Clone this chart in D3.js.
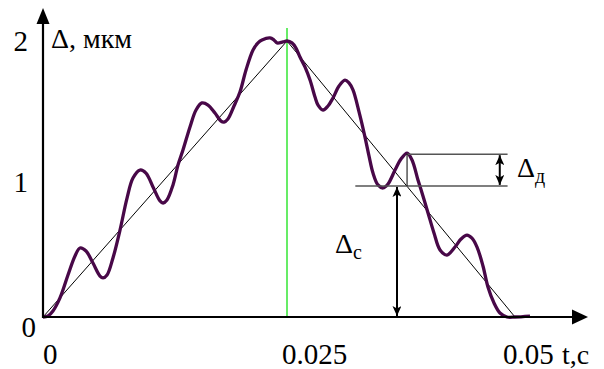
<!DOCTYPE html>
<html><head><meta charset="utf-8">
<script src="https://cdn.jsdelivr.net/npm/d3@7"></script>
<style>html,body{margin:0;padding:0;background:#fff}svg{display:block}</style>
</head><body><svg id="c" width="604" height="369"></svg>
<script>
// Measured curve: time t (s) and displacement Δ (мкм)
const tValues = [0,0.00051,0.00102,0.00174,0.00256,0.00328,0.00379,0.00441,0.00512,0.00584,0.00615,0.00656,0.00717,0.00789,0.00861,0.00922,0.00994,0.01055,0.01127,0.01199,0.01230,0.01270,0.01332,0.01383,0.01434,0.01506,0.01568,0.01629,0.01691,0.01762,0.01824,0.01855,0.01895,0.01957,0.02018,0.02080,0.02152,0.02203,0.02244,0.02326,0.02367,0.02398,0.02459,0.02500,0.02551,0.02592,0.02633,0.02684,0.02736,0.02787,0.02818,0.02869,0.02920,0.02971,0.03033,0.03094,0.03135,0.03176,0.03238,0.03299,0.03340,0.03381,0.03432,0.03484,0.03535,0.03607,0.03668,0.03730,0.03781,0.03842,0.03893,0.03945,0.04006,0.04068,0.04139,0.04221,0.04283,0.04344,0.04395,0.04447,0.04508,0.04559,0.04621,0.04682,0.04754,0.04836,0.04990];
const deltaValues = [0,0.007,0.043,0.138,0.304,0.442,0.500,0.478,0.391,0.297,0.283,0.304,0.428,0.630,0.862,1.007,1.065,1.043,0.942,0.841,0.826,0.848,0.957,1.101,1.210,1.377,1.500,1.551,1.536,1.478,1.420,1.413,1.435,1.529,1.630,1.790,1.935,1.986,2.007,2.022,2.007,1.986,1.993,2.000,1.986,1.949,1.884,1.812,1.717,1.594,1.536,1.500,1.529,1.587,1.674,1.717,1.696,1.645,1.486,1.304,1.167,1.043,0.957,0.935,0.964,1.065,1.145,1.188,1.138,0.993,0.877,0.754,0.609,0.486,0.449,0.507,0.565,0.594,0.572,0.507,0.370,0.217,0.101,0.029,0,0,0.007];
// Triangular (static) component
const triT = [0, 0.025, 0.04836];
const triD = [0, 2, 0];
const xTicks = [0, 0.025, 0.05];
const xTickLabels = ["0", "0.025", "0.05"];
const yTicks = [0, 1, 2];
const yTickLabels = ["0", "1", "2"];
// annotation values
const dynTop = 1.18, dynBottom = 0.95;
const dynTopStart = 0.0373, dynBottomStart = 0.0320, dynEnd = 0.0476;
const dynArrowT = 0.0468, statArrowT = 0.03627;
const peakT = 0.025;

const svg = d3.select("#c");
const x = d3.scaleLinear().domain([0, 0.05]).range([43, 531]);
const y = d3.scaleLinear().domain([0, 2]).range([317, 41]);

function txt(sel){
  return sel.attr("font-family", "Times New Roman").style("font-family", '"Times New Roman", Tinos, "Liberation Serif"');
}

const defs = svg.append("defs");
function marker(id, w, h){
  defs.append("marker").attr("id", id).attr("viewBox", `0 0 ${w} ${h}`)
    .attr("refX", w).attr("refY", h/2).attr("markerWidth", w).attr("markerHeight", h)
    .attr("markerUnits", "userSpaceOnUse").attr("orient", "auto-start-reverse")
    .append("path").attr("d", `M0,0L${w},${h/2}L0,${h}L${w*0.25},${h/2}Z`).attr("fill", "#000");
}
marker("ah", 10, 9);

// green vertical line at peak
svg.append("line").attr("x1", x(peakT)).attr("x2", x(peakT)).attr("y1", 28).attr("y2", y(0))
  .attr("stroke", "#00e000").attr("stroke-width", 1.2);

// triangle
const line = d3.line().x(d => x(d[0])).y(d => y(d[1]));
svg.append("path").attr("d", line(triT.map((t, i) => [t, triD[i]])))
  .attr("fill", "none").attr("stroke", "#000").attr("stroke-width", 1);

// curve
const curveLine = d3.line().x(d => x(d[0])).y(d => y(d[1])).curve(d3.curveCatmullRom);
svg.append("path").attr("d", curveLine(tValues.map((t, i) => [t, deltaValues[i]])))
  .attr("fill", "none").attr("stroke", "#480848").attr("stroke-width", 3.3).attr("stroke-linejoin", "round");

// annotations
svg.append("line").attr("x1", x(dynTopStart)).attr("x2", x(dynEnd)).attr("y1", y(dynTop)).attr("y2", y(dynTop))
  .attr("stroke", "#555").attr("stroke-width", 1.5);
svg.append("line").attr("x1", x(dynBottomStart)).attr("x2", x(dynEnd)).attr("y1", y(dynBottom)).attr("y2", y(dynBottom))
  .attr("stroke", "#555").attr("stroke-width", 1.5);
svg.append("line").attr("x1", x(dynTopStart)).attr("x2", x(dynTopStart)).attr("y1", y(dynTop)).attr("y2", y(dynBottom))
  .attr("stroke", "#000").attr("stroke-width", 1);
svg.append("line").attr("x1", x(dynArrowT)).attr("x2", x(dynArrowT)).attr("y1", y(dynTop)+1).attr("y2", y(dynBottom)-1)
  .attr("stroke", "#000").attr("stroke-width", 2)
  .attr("marker-start", "url(#ah)").attr("marker-end", "url(#ah)");
svg.append("line").attr("x1", x(statArrowT)).attr("x2", x(statArrowT)).attr("y1", y(dynBottom)+1).attr("y2", y(0)-1)
  .attr("stroke", "#000").attr("stroke-width", 2)
  .attr("marker-start", "url(#ah)").attr("marker-end", "url(#ah)");

// axes
svg.append("line").attr("x1", 43).attr("x2", 574).attr("y1", y(0)).attr("y2", y(0)).attr("stroke", "#000").attr("stroke-width", 2.2);
svg.append("path").attr("d", `M588,${y(0)}L572,${y(0)-7.5}L572,${y(0)+7.5}Z`).attr("fill", "#000");
svg.append("line").attr("x1", 43).attr("x2", 43).attr("y1", y(0)+1).attr("y2", 22).attr("stroke", "#000").attr("stroke-width", 2.2);
svg.append("path").attr("d", `M43,8L36.5,24L49.5,24Z`).attr("fill", "#000");

// tick labels
const xOff = [0, -5, -28];
txt(svg.selectAll(".xt").data(xTicks).join("text").attr("class", "xt"))
  .attr("x", (d, i) => x(d) + xOff[i]).attr("y", 364).attr("font-size", 29).text((d, i) => xTickLabels[i]);
const yX = [36, 28, 28];
const yDy = [20, 13, 10];
txt(svg.selectAll(".yt").data(yTicks).join("text").attr("class", "yt").attr("text-anchor", "end"))
  .attr("x", (d, i) => yX[i]).attr("y", (d, i) => y(d) + yDy[i]).attr("font-size", 29).text((d, i) => yTickLabels[i]);

// axis titles
txt(svg.append("text")).attr("x", 51).attr("y", 48).attr("font-size", 28).text("Δ, мкм");
txt(svg.append("text")).attr("x", 562).attr("y", 364).attr("font-size", 28).text("t,c");

// delta labels
const tc = txt(svg.append("text")).attr("x", 335).attr("y", 253).attr("font-size", 28);
tc.append("tspan").text("Δ");
tc.append("tspan").attr("font-size", 20).attr("dy", 6).text("c");
const td = txt(svg.append("text")).attr("x", 517).attr("y", 177).attr("font-size", 28);
td.append("tspan").text("Δ");
td.append("tspan").attr("font-size", 20).attr("dy", 6).text("д");
</script></body></html>
